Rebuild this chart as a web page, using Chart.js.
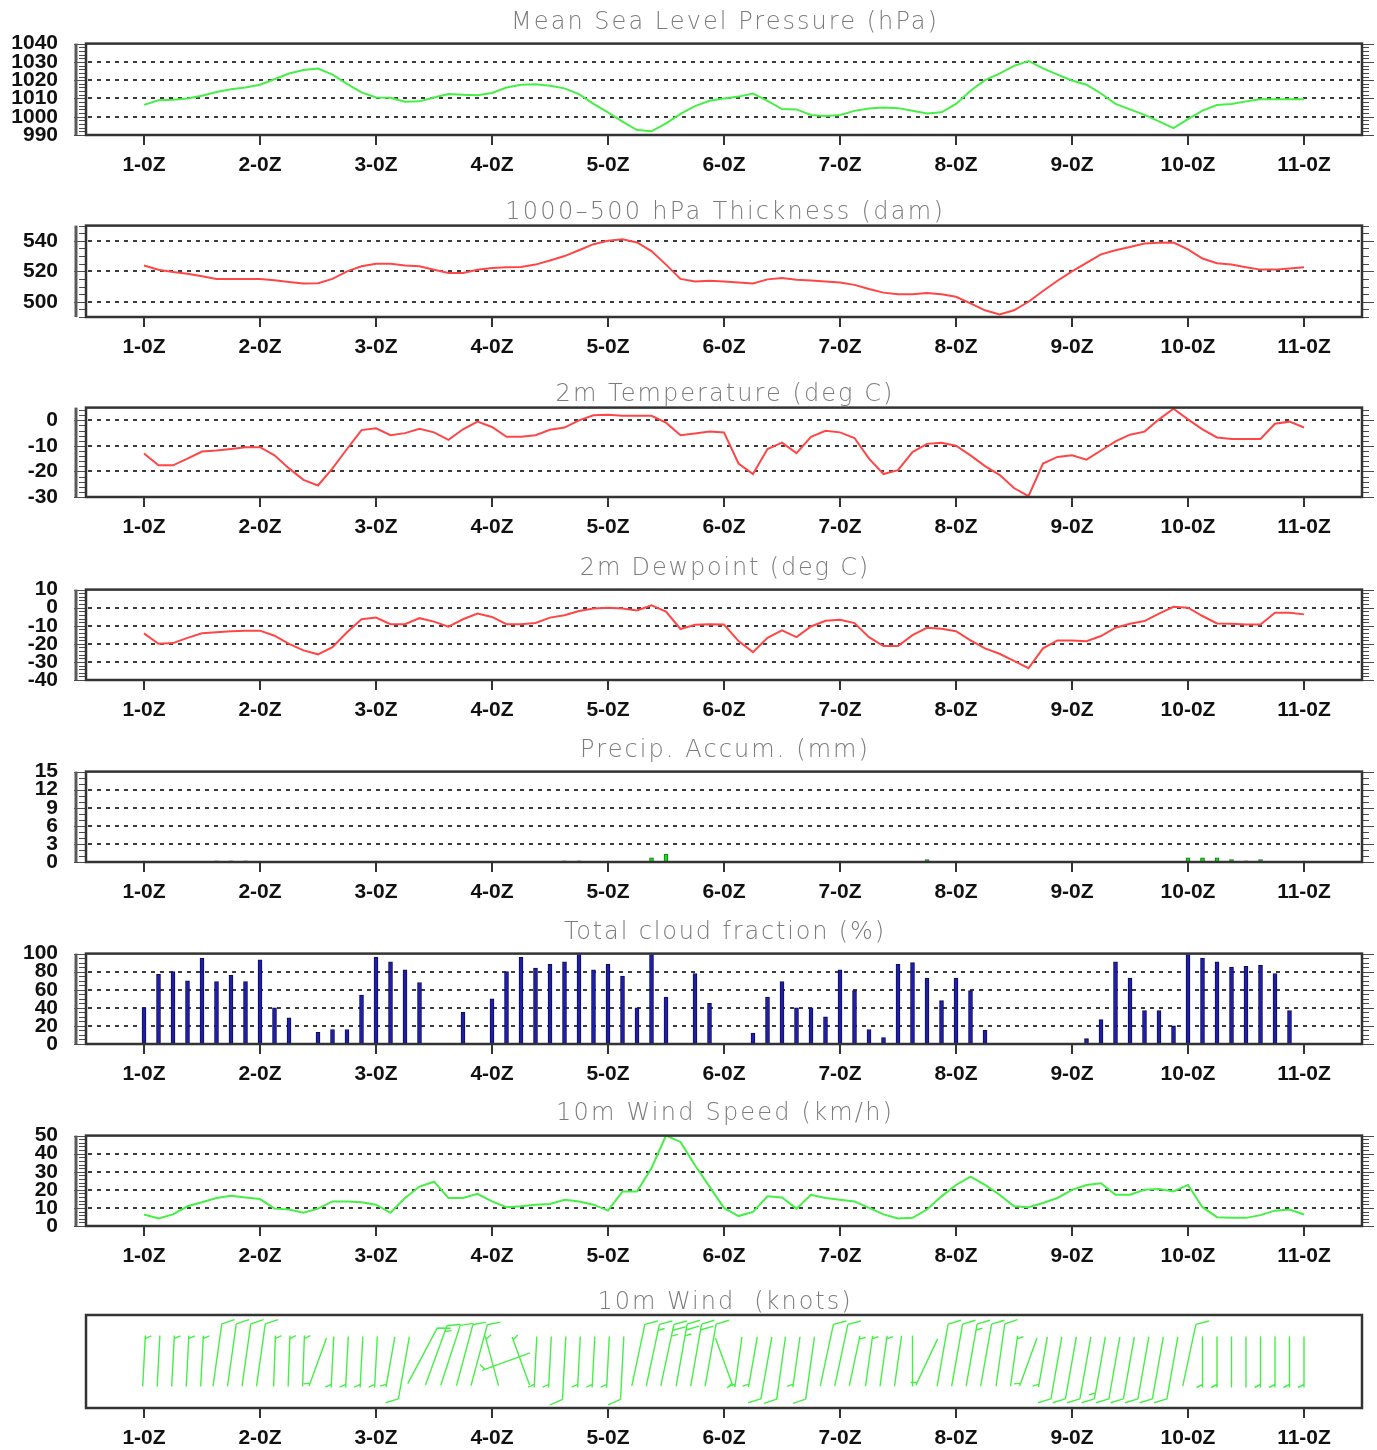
<!DOCTYPE html>
<html>
<head>
<meta charset="utf-8">
<script src="https://cdn.jsdelivr.net/npm/chart.js@4.4.1/dist/chart.umd.min.js"></script>
<style>
  html, body { margin: 0; padding: 0; background: #ffffff; }
  #wrap { position: relative; width: 1377px; height: 1450px; overflow: hidden; background: #ffffff; }
  #wrap canvas { position: absolute; left: 0; }
</style>
</head>
<body>
<div id="wrap"></div>
<script>
// Forecast hours from the first day at 00Z, every 3 hours
const hours = [0,3,6,9,12,15,18,21,24,27,30,33,36,39,42,45,48,51,54,57,60,63,66,69,72,75,78,81,84,87,
  90,93,96,99,102,105,108,111,114,117,120,123,126,129,132,135,138,141,144,147,150,153,156,159,162,165,
  168,171,174,177,180,183,186,189,192,195,198,201,204,207,210,213,216,219,222,225,228,231,234,237,240];
const dayTicks = [0,24,48,72,96,120,144,168,192,216,240];
const dayLabels = ['1-0Z','2-0Z','3-0Z','4-0Z','5-0Z','6-0Z','7-0Z','8-0Z','9-0Z','10-0Z','11-0Z'];

const mslp = [1006.5,1009,1009.3,1010,1011.5,1013.5,1015,1016,1017.5,1020.5,1023.6,1025.5,1026.4,1023,1018,1013.3,
  1010.5,1010.4,1008.2,1008.4,1010.5,1012.4,1012,1011.8,1013,1016,1017.5,1017.8,1017,1015.5,1012.4,1007,1002.4,
  997.3,992.7,992,996.4,1001.5,1005.8,1008.7,1010,1011,1012.7,1008.7,1004.2,1004,1001,1000.4,1001,1003.2,1004.5,
  1005.1,1004.7,1003.3,1001.8,1002.4,1007,1014.2,1020,1023.6,1027.8,1030.5,1026.4,1023,1019.8,1017.5,1012.7,1007,
  1004,1001,997.5,993.8,998.7,1003.3,1006.4,1007,1008.4,1009.6,1009.6,1009.6,1009.6];

const thickness = [523.8,521,519.6,518.4,516.7,515,514.9,514.9,514.9,514.2,513,512,512.2,515,520,523.3,525,525,
  523.8,523.3,521,518.9,518.9,521,522.2,522.7,522.9,524.4,527.1,530,533.8,537.8,540,541.1,538.9,533.3,524.4,515,
  513.3,513.8,513.3,512.7,512,514.7,515.6,514.4,514,513.3,512.7,511.1,508.4,506,504.9,504.9,505.8,504.9,503.3,
  498.9,494.4,491.6,494.4,500,507.1,513.8,520,525.6,531.1,533.8,536,538.2,538.7,538.9,534.4,528.4,525.3,524.4,
  522.7,521.1,521.1,521.8,522.7];

const temp2m = [-13,-17.6,-17.6,-15,-12.2,-11.8,-11.2,-10.5,-10.5,-13.7,-18.8,-23.3,-25.5,-18.8,-11.2,-3.8,-3.1,
  -5.8,-5,-3.3,-4.7,-7.6,-3.5,-0.5,-2.6,-6.4,-6.4,-5.8,-3.7,-2.8,0,2,2.2,1.8,1.8,1.8,-0.9,-5.8,-5.1,-4.4,-4.7,
  -16.9,-21,-11.2,-8.7,-12.8,-6.4,-4.1,-4.7,-6.9,-15,-21,-19.5,-12.4,-9.2,-8.8,-9.9,-13.7,-17.9,-21.3,-26.5,
  -29.7,-16.9,-14.3,-13.7,-15.4,-11.8,-8.2,-5.6,-4.4,0.4,4.6,0.4,-3.5,-6.7,-7.3,-7.3,-7.3,-1.3,-0.5,-2.8];

const dew2m = [-14.2,-20,-19.6,-16.7,-14.2,-13.6,-13.1,-12.7,-12.7,-15.5,-20,-23.6,-25.8,-21.8,-13.6,-6.4,-5.5,
  -9.1,-9.1,-5.8,-7.7,-10.5,-6.4,-3.3,-5.1,-9.1,-9.1,-8.5,-5.5,-4.2,-1.8,-0.4,0,-0.5,-1.5,1.3,-2.2,-11.8,-9.5,
  -9.1,-9.3,-18.5,-24.6,-16.7,-12.5,-16.3,-10.4,-7.2,-6.7,-8.5,-16.3,-21.2,-21.2,-15.2,-11.1,-11.7,-13,-18.1,
  -22.5,-25.5,-29.4,-33.5,-22.5,-18.1,-18.1,-18.5,-15.7,-11.1,-8.9,-7.4,-3.3,0.5,0,-4.6,-8.7,-8.9,-9.3,-9.3,
  -2.8,-2.8,-3.7];

const precip = [0,0,0,0,0,0.2,0.2,0.2,0,0,0,0,0,0,0,0,0,0,0,0,0,0,0,0,0,0,0,0,0,0.2,0.2,0,0,0,0,0.7,1.3,0,0,0,
  0,0,0,0,0,0,0,0,0,0,0,0,0,0,0.4,0,0,0,0,0,0,0,0,0,0,0,0,0,0,0,0,0,0.7,0.7,0.7,0.4,0.2,0.4,0,0,0];

const cloud = [40,77,80,70,95,69,76,69,93,40,29,0,13,16,16,54,96,91,82,68,0,0,35,0,50,80,96,84,88,91,99,82,88,
  75,40,99,52,0,78,45,0,0,12,52,69,40,40,30,82,59,16,7,88,90,73,48,73,59,15,0,0,0,0,0,0,6,27,91,73,37,37,20,99,
  95,91,85,86,87,78,37,0];

const windSpeed = [6.4,4.2,6.4,10.9,13.1,15.5,16.7,15.8,14.9,9.6,9.1,7.3,9.6,13.6,13.6,13.1,11.8,7.3,15.5,21.8,
  24.5,15.5,15.5,17.8,13.6,10.4,10.9,11.8,12.2,14.5,13.6,11.8,8.5,19.1,19.1,32,50,46.5,33.6,21.8,10,5.5,7.8,
  16.4,15.8,9.6,17.3,15.5,14.5,13.6,10,6.4,4.2,4.5,9.1,16.4,22.7,27.3,22.7,17.3,10.9,10.4,12.7,15.5,20,22.7,
  23.6,17.3,17.3,20,20.5,19.1,22.7,10.4,4.9,4.5,4.5,6,8.5,9.1,6.4];

// direction the wind blows from, degrees
const windDir = [3,3,3,3,3,8,8,8,8,2,2,2,200,183,183,183,183,190,190,28,20,18,15,15,345,250,340,183,183,
  183,183,183,183,183,12,12,12,10,10,10,160,188,190,190,188,188,188,12,12,12,8,8,8,0,205,10,10,10,10,8,8,
  200,190,190,190,190,190,190,190,190,190,190,12,180,180,180,180,180,180,180,180];

const mslpTicks = [990,1000,1010,1020,1030,1040];
const thickTicks = [500,520,540];
const tempTicks = [-30,-20,-10,0];
const dewTicks = [-40,-30,-20,-10,0,10];
const precipTicks = [0,3,6,9,12,15];
const cloudTicks = [0,20,40,60,80,100];
const windTicks = [0,10,20,30,40,50];

const GREEN = '#46ef46';
const RED = '#ff4646';

const panels = [
  { title: 'Mean Sea Level Pressure (hPa)', titleW: 428, titleDy: 21, top: 43, bottom: 135,
    min: 990, max: 1040, ticks: mslpTicks, minor: 2, kind: 'line', values: mslp, color: GREEN },
  { title: '1000\u2013500 hPa Thickness (dam)', titleW: 440, titleDy: 13, top: 225, bottom: 317,
    min: 490, max: 550, ticks: thickTicks, minor: 5, kind: 'line', values: thickness, color: RED },
  { title: '2m Temperature (deg C)', titleW: 339, titleDy: 13, top: 407, bottom: 497,
    min: -30, max: 5, ticks: tempTicks, minor: 2, kind: 'line', values: temp2m, color: RED },
  { title: '2m Dewpoint (deg C)', titleW: 290, titleDy: 21, top: 589, bottom: 680,
    min: -40, max: 10, ticks: dewTicks, minor: 2, kind: 'line', values: dew2m, color: RED },
  { title: 'Precip. Accum. (mm)', titleW: 290, titleDy: 21, top: 771, bottom: 862,
    min: 0, max: 15, ticks: precipTicks, minor: 1, kind: 'bar', values: precip, color: '#22d622', edge: '#0f7a0f' },
  { title: 'Total cloud fraction (%)', titleW: 322, titleDy: 21, top: 953, bottom: 1044,
    min: 0, max: 100, ticks: cloudTicks, minor: 5, kind: 'bar', values: cloud, color: '#1e1eaa', edge: '#0c0c55' },
  { title: '10m Wind Speed (km/h)', titleW: 338, titleDy: 22, top: 1135, bottom: 1226,
    min: 0, max: 50, ticks: windTicks, minor: 2, kind: 'line', values: windSpeed, color: GREEN },
  { title: '10m Wind  (knots)', titleW: 255, titleDy: 12, top: 1315, bottom: 1408,
    min: -1, max: 1, ticks: null, minor: 0, kind: 'barbs', values: [], color: GREEN }
];

const PAD_TOP = 40, PAD_BOTTOM = 50, AXIS_W = 86, RIGHT_PAD = 15;

function drawBarb(ctx, cx, cy, dir, kt) {
  const r = dir * Math.PI / 180;
  const vx = Math.sin(r), vy = -Math.cos(r);   // toward the source of the wind
  const px = -vy, py = vx;                      // feather side
  let n = Math.round(kt / 5);
  const flags = Math.floor(n / 10); n -= flags * 10;
  const full = Math.floor(n / 2), half = n % 2;
  const tail = 25, head = (flags + full) > 0 ? 38 : 26;
  const tx = cx + vx * head, ty = cy + vy * head;
  ctx.beginPath();
  ctx.moveTo(cx - vx * tail, cy - vy * tail);
  ctx.lineTo(tx, ty);
  let d = 0;
  for (let k = 0; k < flags; k++) {
    const bx = tx - vx * d, by = ty - vy * d;
    ctx.moveTo(bx, by);
    ctx.lineTo(bx + px * 12, by + py * 12);
    ctx.lineTo(bx - vx * 6, by - vy * 6);
    d += 8;
  }
  for (let k = 0; k < full; k++) {
    const bx = tx - vx * d, by = ty - vy * d;
    ctx.moveTo(bx, by);
    ctx.lineTo(bx + px * 12 + vx * 6, by + py * 12 + vy * 6);
    d += 6;
  }
  if (half) {
    if (flags + full === 0) d = 3;
    const bx = tx - vx * d, by = ty - vy * d;
    ctx.moveTo(bx, by);
    ctx.lineTo(bx + px * 6 + vx * 3, by + py * 6 + vy * 3);
  }
  ctx.stroke();
}

const meteoFrame = {
  id: 'meteoFrame',
  beforeDatasetsDraw(chart, args, o) {
    const { ctx, chartArea: a } = chart;
    const y = chart.scales.y;
    if (!o.ticks) return;
    ctx.save();
    ctx.setLineDash([4, 5]);
    ctx.lineWidth = 2;
    ctx.strokeStyle = '#3c3c3c';
    o.ticks.forEach(v => {
      if (v <= o.min || v >= o.max) return;
      const py = Math.round(y.getPixelForValue(v));
      ctx.beginPath();
      ctx.moveTo(a.left + 2, py);
      ctx.lineTo(a.right - 2, py);
      ctx.stroke();
    });
    ctx.restore();
  },
  afterDraw(chart, args, o) {
    const { ctx, chartArea: a } = chart;
    const x = chart.scales.x, y = chart.scales.y;
    ctx.save();
    // wind barbs
    if (o.kind === 'barbs') {
      ctx.strokeStyle = o.color;
      ctx.lineWidth = 1.4;
      const cy = y.getPixelForValue(0);
      hours.forEach((h, i) => {
        drawBarb(ctx, x.getPixelForValue(h), cy, windDir[i], windSpeed[i] / 1.852);
      });
    }
    // side rulers
    if (o.ticks) {
      ctx.strokeStyle = '#4a4a4a';
      ctx.lineWidth = 1;
      for (let v = o.min; v <= o.max + 1e-9; v += o.minor) {
        const major = o.ticks.includes(v);
        const py = Math.round(y.getPixelForValue(v)) + 0.5;
        const len = major ? 12 : 7;
        ctx.beginPath();
        ctx.moveTo(a.left - len, py); ctx.lineTo(a.left, py);
        ctx.moveTo(a.right, py); ctx.lineTo(a.right + len, py);
        ctx.stroke();
      }
      ctx.lineWidth = 3;
      ctx.strokeStyle = '#5a5a5a';
      ctx.beginPath();
      ctx.moveTo(a.left - 10, a.top); ctx.lineTo(a.left - 10, a.bottom);
      ctx.stroke();
    }
    // frame
    ctx.strokeStyle = '#333333';
    ctx.lineWidth = 2.5;
    ctx.strokeRect(a.left, a.top, a.right - a.left, a.bottom - a.top);
    // day tick marks below the frame
    ctx.lineWidth = 2;
    dayTicks.forEach(h => {
      const px = Math.round(x.getPixelForValue(h));
      ctx.beginPath();
      ctx.moveTo(px, a.bottom + 1); ctx.lineTo(px, a.bottom + 10);
      ctx.stroke();
    });
    // panel title
    ctx.font = '300 24px "DejaVu Sans", sans-serif';
    ctx.letterSpacing = '0px';
    const w = ctx.measureText(o.title).width;
    const sp = Math.max(0, (o.titleW - w) / o.title.length);
    ctx.letterSpacing = sp.toFixed(2) + 'px';
    ctx.fillStyle = '#7c7c7c';
    ctx.textAlign = 'center';
    ctx.textBaseline = 'middle';
    ctx.fillText(o.title, (a.left + a.right) / 2 + sp / 2, a.top - o.titleDy);
    ctx.restore();
  }
};

const wrap = document.getElementById('wrap');
const tickFont = { family: '"Liberation Sans", Arial, sans-serif', size: 21, weight: 'bold' };

panels.forEach(p => {
  const h = (p.bottom - p.top) + PAD_TOP + PAD_BOTTOM;
  const canvas = document.createElement('canvas');
  canvas.width = 1377; canvas.height = h;
  canvas.style.top = (p.top - PAD_TOP) + 'px';
  canvas.style.width = '1377px'; canvas.style.height = h + 'px';
  wrap.appendChild(canvas);

  let datasets;
  if (p.kind === 'line') {
    datasets = [{ type: 'line', data: p.values, borderColor: p.color, borderWidth: 2,
      pointRadius: 0, tension: 0, fill: false }];
  } else if (p.kind === 'bar') {
    datasets = [{ type: 'bar', data: p.values, backgroundColor: p.color, borderColor: p.edge,
      borderWidth: 1, barThickness: 4, borderSkipped: 'bottom' }];
  } else {
    datasets = [{ type: 'line', data: [], pointRadius: 0 }];
  }

  new Chart(canvas, {
    type: p.kind === 'bar' ? 'bar' : 'line',
    data: { labels: hours, datasets },
    options: {
      responsive: false,
      animation: false,
      devicePixelRatio: 1,
      layout: { padding: { top: PAD_TOP, right: RIGHT_PAD, bottom: 0, left: 0 } },
      plugins: {
        legend: { display: false },
        tooltip: { enabled: false },
        meteoFrame: { title: p.title, titleW: p.titleW, titleDy: p.titleDy, ticks: p.ticks,
          min: p.min, max: p.max, minor: p.minor, kind: p.kind, color: p.color }
      },
      scales: {
        x: {
          type: 'linear', min: -12, max: 252, offset: false,
          afterBuildTicks: s => { s.ticks = dayTicks.map(v => ({ value: v })); },
          afterFit: s => { s.height = PAD_BOTTOM; },
          grid: { display: false, drawTicks: false },
          border: { display: false },
          ticks: { autoSkip: false, maxRotation: 0, padding: 18, color: '#111111', font: tickFont,
            callback: v => dayLabels[dayTicks.indexOf(v)] }
        },
        y: {
          min: p.min, max: p.max,
          afterBuildTicks: s => { if (p.ticks) s.ticks = p.ticks.map(v => ({ value: v })); },
          afterFit: s => { s.width = AXIS_W; },
          grid: { display: false, drawTicks: false },
          border: { display: false },
          ticks: { display: !!p.ticks, autoSkip: false, padding: 28, color: '#111111', font: tickFont,
            callback: v => String(v) }
        }
      }
    },
    plugins: [meteoFrame]
  });
});
</script>
</body>
</html>
